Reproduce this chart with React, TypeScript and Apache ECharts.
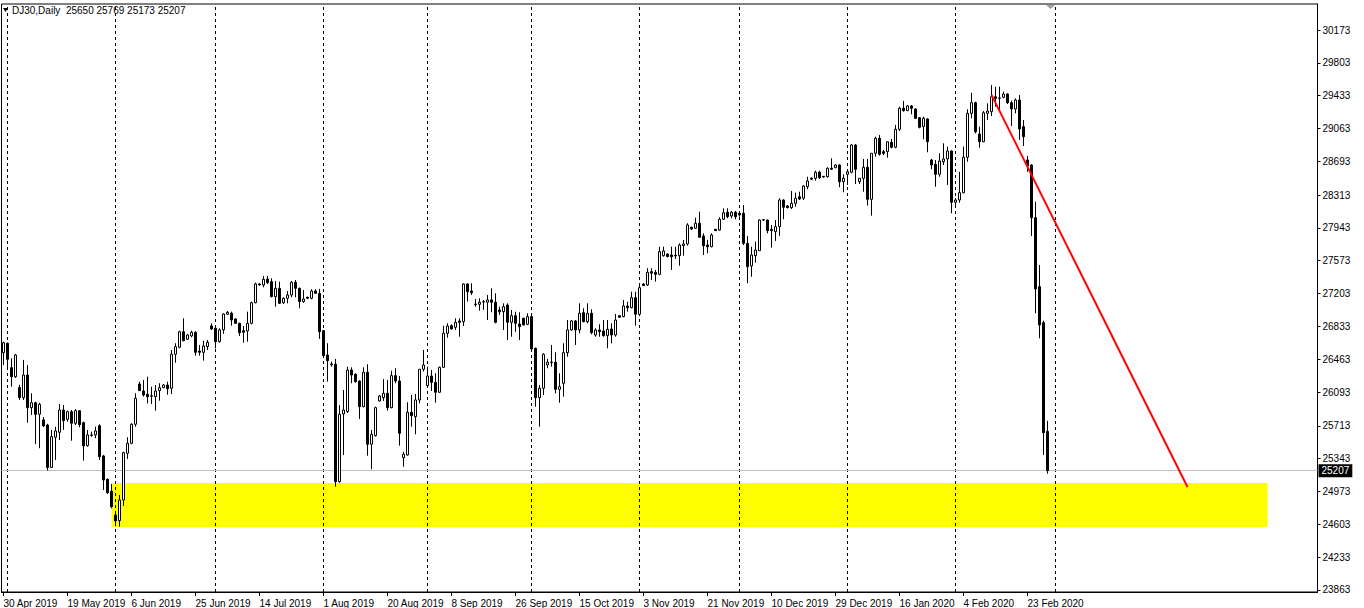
import React, { useEffect, useRef } from "react";
import * as echarts from "echarts";

// ---- data: [open, high, low, close] per daily bar (Sun–Fri bars) ----
const may2019 = [
  [26537, 26661, 26398, 26649], [26643, 26650, 26361, 26462], [26368, 26473, 26153, 26266], [26266, 26522, 26252, 26511],
  [26144, 26175, 26004, 26030], [26030, 26455, 26004, 26285], [26285, 26398, 25748, 25917], [25917, 26079, 25835, 25973],
  [25973, 25985, 25505, 25843], [25843, 25973, 25460, 25955], [25779, 25812, 25700, 25711], [25722, 25735, 25210, 25244],
  [25244, 25666, 25237, 25591], [25584, 25703, 25328, 25655], [25640, 25959, 25553, 25891], [25891, 25947, 25666, 25771],
  [25786, 25883, 25760, 25872], [25872, 25891, 25545, 25741], [25741, 25902, 25722, 25883], [25883, 25891, 25696, 25726],
  [25748, 25760, 25320, 25486], [25489, 25666, 25478, 25610], [25610, 25647, 25590, 25605], [25610, 25703, 25572, 25655],
  [25714, 25730, 25328, 25365], [25373, 25385, 24990, 25102], [25110, 25120, 24945, 24959], [24975, 25057, 24783, 24801],
];
const jun2019 = [
  [24708, 24727, 24615, 24640], [24644, 24933, 24576, 24877], [24877, 25421, 24809, 25410], [25403, 25584, 25339, 25516],
  [25516, 25741, 25505, 25730], [25730, 26079, 25703, 26023], [26184, 26210, 26105, 26109], [26105, 26229, 26041, 26060],
  [26068, 26266, 25966, 26041], [26045, 26153, 25959, 26052], [26041, 26172, 25883, 26105], [26109, 26192, 25996, 26142],
  [26142, 26184, 26139, 26172], [26172, 26210, 26064, 26131], [26136, 26567, 26071, 26519], [26519, 26643, 26424, 26605],
  [26598, 26785, 26587, 26773], [26773, 26924, 26665, 26672], [26688, 26748, 26680, 26736], [26725, 26785, 26710, 26767],
  [26767, 26778, 26503, 26541], [26556, 26624, 26503, 26541], [26541, 26672, 26447, 26612], [26605, 26680, 26567, 26654],
  [26838, 26868, 26793, 26804],
];
const jul2019 = [
  [26812, 26825, 26586, 26661], [26661, 26812, 26650, 26793], [26793, 26981, 26748, 26973], [26970, 27007, 26962, 26992],
  [26981, 26999, 26841, 26905], [26917, 26924, 26860, 26868], [26868, 26875, 26725, 26762], [26785, 26838, 26650, 26767],
  [26781, 26999, 26661, 26868], [26868, 27112, 26856, 27100], [27100, 27326, 27093, 27311], [27311, 27319, 27289, 27303],
  [27300, 27401, 27274, 27364], [27367, 27401, 27311, 27326], [27337, 27375, 27161, 27168], [27168, 27345, 27055, 27262],
  [27262, 27337, 27085, 27093], [27100, 27161, 27085, 27150], [27150, 27232, 27093, 27187], [27187, 27345, 27161, 27330],
  [27330, 27356, 27161, 27262], [27262, 27270, 27037, 27112], [27112, 27243, 27100, 27142], [27161, 27168, 27142, 27150],
  [27150, 27251, 27138, 27232], [27232, 27251, 27198, 27206], [27206, 27255, 26693, 26773],
];
const aug2019 = [
  [26785, 26793, 26492, 26503], [26511, 26643, 26210, 26447], [26400, 26436, 26379, 26410], [26406, 26466, 25027, 25083],
  [25083, 25947, 25072, 25843], [25846, 26116, 25384, 25891], [25872, 26379, 25857, 26342], [26342, 26372, 26192, 26285],
  [26293, 26304, 26199, 26210], [26218, 26225, 25790, 25928], [25928, 26372, 25921, 26316], [26316, 26406, 25376, 25505],
  [25505, 25666, 25223, 25617], [25602, 25928, 25591, 25917], [25993, 26060, 25985, 26049], [26030, 26240, 25993, 26079],
  [26079, 26229, 25883, 25917], [25917, 26334, 25910, 26278], [26278, 26361, 26192, 26218], [26218, 26274, 25489, 25629],
  [25354, 25421, 25252, 25392], [25384, 25978, 25376, 25865], [25865, 26060, 25703, 25827], [25816, 26071, 25617, 26004],
  [26004, 26353, 25966, 26350], [26350, 26567, 26323, 26398],
];
const sep2019 = [
  [26165, 26379, 26161, 26274], [26274, 26342, 26105, 26203], [26203, 26305, 25973, 26091], [26091, 26379, 26083, 26372],
  [26372, 26841, 26364, 26755], [26755, 26868, 26706, 26838], [26841, 26856, 26800, 26804], [26823, 26924, 26793, 26879],
  [26894, 26924, 26717, 26879], [26886, 27319, 26838, 27311], [27311, 27319, 27112, 27224], [27232, 27319, 27187, 27213],
  [27078, 27142, 27055, 27085], [27082, 27150, 27010, 27105], [27108, 27130, 27020, 27112], [27105, 27187, 26905, 27131],
  [27131, 27262, 26992, 27105], [27105, 27206, 26868, 26879], [27018, 27055, 26962, 26999], [26999, 27093, 26793, 27055],
  [27074, 27093, 26680, 26879], [26879, 27018, 26717, 26954], [26954, 26999, 26773, 26868], [26860, 26992, 26680, 26830],
  [26924, 26932, 26845, 26849], [26857, 26981, 26849, 26943],
];
const oct2019 = [
  [26943, 26981, 26567, 26579], [26586, 26594, 25928, 26030], [26030, 26172, 25703, 26136], [26136, 26530, 26060, 26519],
  [26398, 26466, 26361, 26429], [26425, 26624, 26379, 26432], [26429, 26541, 26079, 26124], [26124, 26305, 25973, 26154],
  [26192, 26643, 26041, 26537], [26537, 26905, 26492, 26793], [26793, 26905, 26785, 26894], [26894, 26905, 26624, 26793],
  [26793, 27093, 26755, 26981], [26988, 27037, 26879, 26886], [26886, 27093, 26868, 26981], [26981, 27026, 26744, 26762],
  [26736, 26812, 26717, 26793], [26793, 26857, 26717, 26774], [26781, 26905, 26717, 26729], [26729, 26905, 26586, 26800],
  [26804, 26868, 26643, 26736], [26736, 26973, 26717, 26905], [26954, 26962, 26932, 26936], [26943, 27131, 26936, 27063],
  [27063, 27112, 26999, 27044], [27044, 27224, 27037, 27157], [27157, 27224, 26841, 26970],
];
const nov2019 = [
  [26970, 27288, 26962, 27269], [27311, 27319, 27288, 27292], [27300, 27488, 27288, 27443], [27450, 27488, 27356, 27432],
  [27443, 27469, 27337, 27420], [27420, 27731, 27409, 27675], [27630, 27731, 27619, 27683], [27649, 27656, 27612, 27619],
  [27638, 27731, 27469, 27619], [27634, 27731, 27593, 27627], [27630, 27769, 27517, 27750], [27743, 27807, 27630, 27762],
  [27762, 27995, 27743, 27976], [27950, 27957, 27919, 27931], [27939, 28058, 27931, 27995], [27995, 28126, 27837, 27837],
  [27852, 27882, 27638, 27743], [27750, 27807, 27657, 27731], [27731, 27882, 27724, 27863], [27927, 27931, 27908, 27912],
  [27919, 28063, 27912, 28040], [28040, 28164, 28032, 28114], [28119, 28164, 28051, 28069], [28077, 28134, 28051, 28119],
  [28119, 28134, 28040, 28069],
];
const dec2019 = [
  [28108, 28114, 28069, 28089], [28108, 28201, 27750, 27769], [27769, 27852, 27319, 27506], [27514, 27731, 27393, 27638],
  [27630, 27788, 27551, 27694], [27686, 28040, 27686, 28032], [28032, 28043, 28021, 28036], [28032, 28036, 27882, 27912],
  [27927, 27976, 27720, 27912], [27900, 28032, 27796, 27957], [27957, 28277, 27852, 28257], [28257, 28265, 28040, 28175],
  [28190, 28201, 28164, 28171], [28171, 28359, 28156, 28220], [28220, 28340, 28182, 28277], [28295, 28351, 28257, 28269],
  [28277, 28427, 28257, 28415], [28407, 28520, 28378, 28472], [28502, 28513, 28483, 28491], [28502, 28588, 28475, 28570],
  [28570, 28588, 28494, 28509], [28524, 28528, 28509, 28517], [28520, 28626, 28509, 28615], [28615, 28727, 28596, 28604],
  [28621, 28660, 28615, 28652], [28652, 28660, 28401, 28464], [28464, 28547, 28344, 28502],
];
const jan2020 = [
  [28547, 28607, 28427, 28576], [28570, 28889, 28558, 28877], [28877, 28889, 28438, 28604], [28464, 28502, 28438, 28502],
  [28502, 28720, 28351, 28626], [28626, 28720, 28194, 28265], [28265, 28784, 28081, 28784], [28784, 28971, 28745, 28953],
  [28953, 28990, 28757, 28772], [28802, 28821, 28764, 28784], [28802, 28914, 28734, 28914], [28908, 28945, 28840, 28851],
  [28851, 29103, 28840, 29054], [29054, 29309, 29035, 29291], [29291, 29373, 29253, 29264], [29264, 29328, 29260, 29317],
  [29317, 29328, 29223, 29291], [29283, 29291, 29170, 29178], [29185, 29190, 29065, 29077], [29084, 29196, 28941, 29178],
  [29170, 29178, 28795, 28914], [28708, 28720, 28604, 28652], [28660, 28708, 28407, 28547], [28547, 28784, 28520, 28697],
  [28689, 28896, 28652, 28720], [28720, 28858, 28427, 28810], [28810, 28815, 28108, 28232],
];
const feb2020 = [
  [28232, 28277, 28201, 28257], [28257, 28576, 28227, 28340], [28340, 28858, 28333, 28739], [28739, 29279, 28689, 29234],
  [29234, 29466, 29178, 29354], [29354, 29365, 29009, 29027], [29001, 29084, 28847, 28914], [28914, 29260, 28908, 29241],
  [29234, 29347, 29159, 29260], [29253, 29553, 29204, 29421], [29421, 29534, 29309, 29403], [29403, 29534, 29253, 29408],
  [29415, 29478, 29403, 29452], [29452, 29460, 29339, 29354], [29354, 29377, 29091, 29283], [29283, 29403, 29234, 29384],
  [29384, 29441, 28934, 29058], [29084, 29159, 28866, 28971], [28708, 28753, 28576, 28641], [28652, 28660, 27852, 28058],
  [28058, 28238, 26981, 27255], [27281, 27525, 26699, 26849], [26875, 26897, 25384, 25635], [25650, 25769, 25173, 25207],
];

const xTickLabels = [
  "30 Apr 2019", "19 May 2019", "6 Jun 2019", "25 Jun 2019", "14 Jul 2019", "1 Aug 2019", "20 Aug 2019",
  "8 Sep 2019", "26 Sep 2019", "15 Oct 2019", "3 Nov 2019", "21 Nov 2019", "10 Dec 2019", "29 Dec 2019",
  "16 Jan 2020", "4 Feb 2020", "23 Feb 2020",
];
const separatorDates = [
  "1 May 2019", "2 Jun 2019", "1 Jul 2019", "1 Aug 2019", "1 Sep 2019", "1 Oct 2019", "1 Nov 2019",
  "1 Dec 2019", "1 Jan 2020", "2 Feb 2020", "1 Mar 2020",
];
const yTickValues = [
  30173, 29803, 29433, 29063, 28693, 28313, 27943, 27573, 27203, 26833, 26463, 26093, 25713, 25343,
  24973, 24603, 24233, 23863,
];
const symbolName = "DJ30";
const periodName = "Daily";
const zone = { startDate: "31 May 2019", endDate: "23 Apr 2020", high: 25069, low: 24573 };
const trend = { startDate: "12 Feb 2020", startPrice: 29442, endDate: "3 Apr 2020", endPrice: 25024 };
const priceMin = 23840;
const priceMax = 30466;
const totalSlots = 329;

const MONTHS = ["Jan", "Feb", "Mar", "Apr", "May", "Jun", "Jul", "Aug", "Sep", "Oct", "Nov", "Dec"];
const FONT = '"Liberation Sans", Arial, sans-serif';

function fmtDate(d: Date) {
  return `${d.getUTCDate()} ${MONTHS[d.getUTCMonth()]} ${d.getUTCFullYear()}`;
}

function buildCategories(count: number, realCount: number) {
  const out: string[] = [];
  let t = Date.UTC(2019, 3, 30);
  while (out.length < count) {
    const d = new Date(t);
    if (out.length >= realCount || d.getUTCDay() !== 6) out.push(fmtDate(d));
    t += 86400000;
  }
  return out;
}

export default function App() {
  const ref = useRef<HTMLDivElement>(null);

  useEffect(() => {
    if (!ref.current) return;
    const bars = [
      ...may2019, ...jun2019, ...jul2019, ...aug2019, ...sep2019,
      ...oct2019, ...nov2019, ...dec2019, ...jan2020, ...feb2020,
    ];
    const categories = buildCategories(totalSlots, bars.length);
    const candleData = bars.map(([o, h, l, c]) => [o, c, l, h]);
    const last = bars[bars.length - 1];
    const tickSet = new Set(xTickLabels);
    const showTick = (_i: number, v: string) => tickSet.has(v);

    const chart = echarts.init(ref.current, null, { renderer: "svg" });
    chart.setOption({
      animation: false,
      grid: {
        left: 1.5, top: 4, width: 1316, height: 588,
        show: true, borderColor: "#000", borderWidth: 1, backgroundColor: "#fff",
      },
      xAxis: {
        type: "category",
        data: categories,
        boundaryGap: true,
        axisLine: { lineStyle: { color: "#000", width: 1 } },
        axisTick: { show: true, alignWithLabel: true, interval: showTick, length: 4, lineStyle: { color: "#000" } },
        axisLabel: {
          interval: showTick, align: "left", color: "#000", fontSize: 10, fontFamily: FONT, margin: 6,
        },
        splitLine: { show: false },
      },
      yAxis: {
        type: "value",
        position: "right",
        min: priceMin,
        max: priceMax,
        axisLine: { show: true, lineStyle: { color: "#000" } },
        axisTick: { show: true, length: 3, customValues: yTickValues, lineStyle: { color: "#000" } },
        axisLabel: {
          customValues: yTickValues, color: "#000", fontSize: 10, fontFamily: FONT, margin: 5,
          formatter: (v: number) => String(Math.round(v)),
        },
        splitLine: { show: false },
      },
      series: [
        {
          type: "line",
          data: [],
          z: 2,
          silent: true,
          markLine: {
            z: 2,
            silent: true,
            symbol: ["none", "none"],
            label: { show: false },
            lineStyle: { color: "#000", type: [3, 3], width: 1 },
            emphasis: { disabled: true },
            data: [
              ...separatorDates.map((d) => ({ xAxis: d })),
              {
                yAxis: last[3],
                lineStyle: { color: "#c0c0c0", type: "solid", width: 1 },
                label: {
                  show: true, position: "end", distance: 1, formatter: String(last[3]),
                  backgroundColor: "#000", color: "#fff", fontSize: 10, fontFamily: FONT,
                  padding: [2, 3, 1, 3],
                },
              },
            ],
          },
        },
        {
          type: "candlestick",
          data: candleData,
          z: 3,
          barWidth: 2,
          silent: true,
          itemStyle: {
            color: "#ffffff", color0: "#000000",
            borderColor: "#000000", borderColor0: "#000000", borderColorDoji: "#000000",
            borderWidth: 1,
          },
          markArea: {
            z: 1,
            silent: true,
            itemStyle: { color: "#ffff00", opacity: 1 },
            label: { show: false },
            data: [[
              { coord: [zone.startDate, zone.high] },
              { coord: [zone.endDate, zone.low] },
            ]],
          },
          markLine: {
            z: 5,
            silent: true,
            symbol: ["none", "none"],
            label: { show: false },
            lineStyle: { color: "#ff0000", width: 2, type: "solid" },
            data: [[
              { coord: [trend.startDate, trend.startPrice] },
              { coord: [trend.endDate, trend.endPrice] },
            ]],
          },
        },
      ],
      graphic: [
        { type: "polygon", shape: { points: [[3, 8], [8, 8], [5.5, 12]] }, style: { fill: "#000" }, z: 10 },
        {
          type: "text", x: 12, y: 10, z: 10,
          style: {
            text: `${symbolName},${periodName}  ${last.map(String).join(" ")}`,
            fill: "#000", fontSize: 10, fontFamily: FONT, verticalAlign: "middle",
          },
        },
        { type: "polygon", shape: { points: [[1046, 5], [1055, 5], [1050.5, 9]] }, style: { fill: "#a0a0a0" }, z: 10 },
      ],
    });
    return () => chart.dispose();
  }, []);

  return (
    <div
      ref={ref}
      style={{ position: "fixed", left: 0, top: 0, width: 1364, height: 608, background: "#fff" }}
    />
  );
}
